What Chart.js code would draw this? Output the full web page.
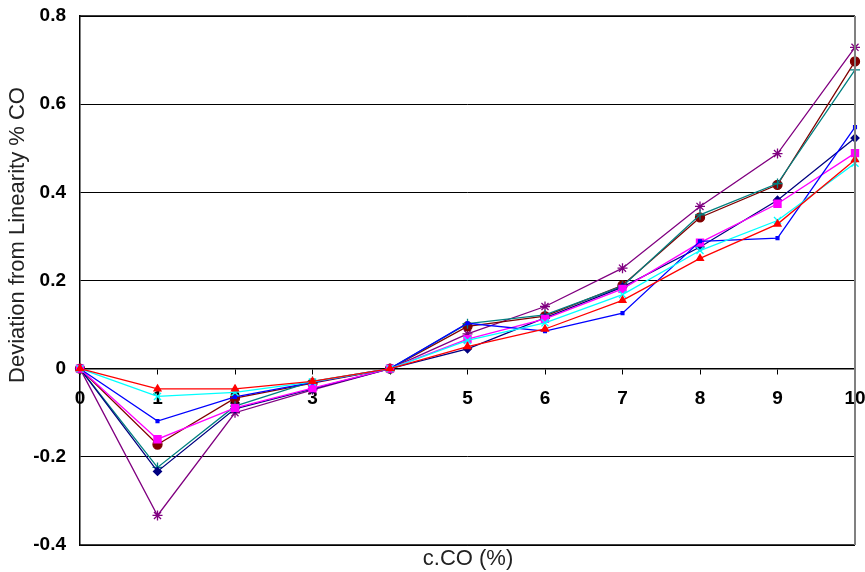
<!DOCTYPE html>
<html>
<head>
<meta charset="utf-8">
<script src="https://cdn.jsdelivr.net/npm/chart.js@4/dist/chart.umd.min.js"></script>
<style>
  html, body { margin: 0; padding: 0; background: #fff; }
  #wrap { width: 865px; height: 572px; }
</style>
</head>
<body>
<div id="wrap"><canvas id="devChart"></canvas></div>
<script>
// x values: CO concentration (%)
var cCO = [0, 1, 2, 3, 4, 5, 6, 7, 8, 9, 10];
// deviation from linearity, one array per series
var red     = [0, -0.046, -0.046, -0.029, 0, 0.050, 0.090, 0.155, 0.250, 0.328, 0.474];
var cyan    = [0, -0.063, -0.054, -0.030, 0, 0.064, 0.104, 0.168, 0.268, 0.336, 0.466];
var blue    = [0, -0.119, -0.064, -0.031, 0, 0.103, 0.085, 0.126, 0.289, 0.296, 0.548];
var magenta = [0, -0.160, -0.089, -0.044, 0, 0.067, 0.113, 0.181, 0.286, 0.374, 0.489];
var maroon  = [0, -0.172, -0.067, -0.033, 0, 0.096, 0.119, 0.189, 0.343, 0.417, 0.697];
var teal    = [0, -0.224, -0.085, -0.029, 0, 0.102, 0.122, 0.187, 0.349, 0.420, 0.678];
var navy    = [0, -0.233, -0.091, -0.046, 0, 0.045, 0.115, 0.185, 0.276, 0.382, 0.523];
var purple  = [0, -0.333, -0.100, -0.048, 0, 0.079, 0.141, 0.228, 0.368, 0.488, 0.729];

var yTitle = "Deviation from Linearity % CO";
var xTitle = "c.CO (%)";

function line(data, color, shape, size) {
  return {
    data: data,
    borderColor: color,
    backgroundColor: color,
    borderWidth: 1.3,
    pointStyle: shape,
    pointRadius: size,
    pointBorderWidth: 1.3,
    fill: false,
    tension: 0
  };
}

// frame around the plot and the two axis titles
var framePlugin = {
  id: 'frame',
  afterDraw: function(chart) {
    var c = chart.ctx, a = chart.chartArea;
    c.save();
    c.strokeStyle = '#000';
    c.lineWidth = 1.5;
    c.beginPath();
    c.moveTo(a.left, a.top); c.lineTo(a.right, a.top);
    c.moveTo(a.left, a.bottom); c.lineTo(a.right, a.bottom);
    c.stroke();
    c.strokeStyle = '#808080';
    c.lineWidth = 2;
    c.beginPath();
    c.moveTo(a.right, a.top); c.lineTo(a.right, a.bottom);
    c.stroke();

    c.fillStyle = '#222';
    c.font = '22px "Liberation Sans", Arial, sans-serif';
    c.textAlign = 'center';
    c.textBaseline = 'middle';
    c.fillText(xTitle, 468, 559);
    c.translate(18, 235);
    c.rotate(-Math.PI / 2);
    c.fillText(yTitle, 0, 0);
    c.restore();
  }
};

var ctx = document.getElementById("devChart");
var myChart = new Chart(ctx, {
  type: 'line',
  data: {
    labels: cCO,
    datasets: [
      line(red, '#ff0000', 'triangle', 4),
      line(cyan, '#00ffff', 'crossRot', 5),
      line(blue, '#0000ff', 'rect', 2),
      line(magenta, '#ff00ff', 'rect', 5),
      line(navy, '#000080', 'rectRot', 4),
      line(teal, '#008080', 'cross', 5),
      line(maroon, '#800000', 'circle', 4.5),
      line(purple, '#800080', 'star', 5)
    ]
  },
  plugins: [framePlugin],
  options: {
    responsive: true,
    maintainAspectRatio: false,
    animation: false,
    layout: { padding: { top: 16, right: 10, bottom: 27, left: 0 } },
    plugins: { legend: { display: false }, tooltip: { enabled: false } },
    scales: {
      x: {
        offset: false,
        position: { y: 0 },
        afterFit: function(scale) { scale.paddingLeft = 0; scale.paddingRight = 0; },
        grid: { drawOnChartArea: false, drawTicks: true, tickLength: 5, color: '#000' },
        border: { color: '#000', width: 1.5 },
        ticks: {
          color: '#000',
          padding: 14,
          maxRotation: 0,
          font: { family: '"Liberation Sans", Arial, sans-serif', size: 19, weight: 'bold' }
        }
      },
      y: {
        min: -0.4,
        max: 0.8,
        afterFit: function(scale) { scale.width = 80; scale.paddingTop = 0; scale.paddingBottom = 0; },
        grid: { color: '#000', lineWidth: 1, drawTicks: false },
        border: { color: '#000', width: 1.5 },
        ticks: {
          stepSize: 0.2,
          color: '#000',
          padding: 14,
          font: { family: '"Liberation Sans", Arial, sans-serif', size: 19, weight: 'bold' },
          callback: function(v) { return Math.round(v * 10) / 10; }
        }
      }
    }
  }
});
</script>
</body>
</html>
